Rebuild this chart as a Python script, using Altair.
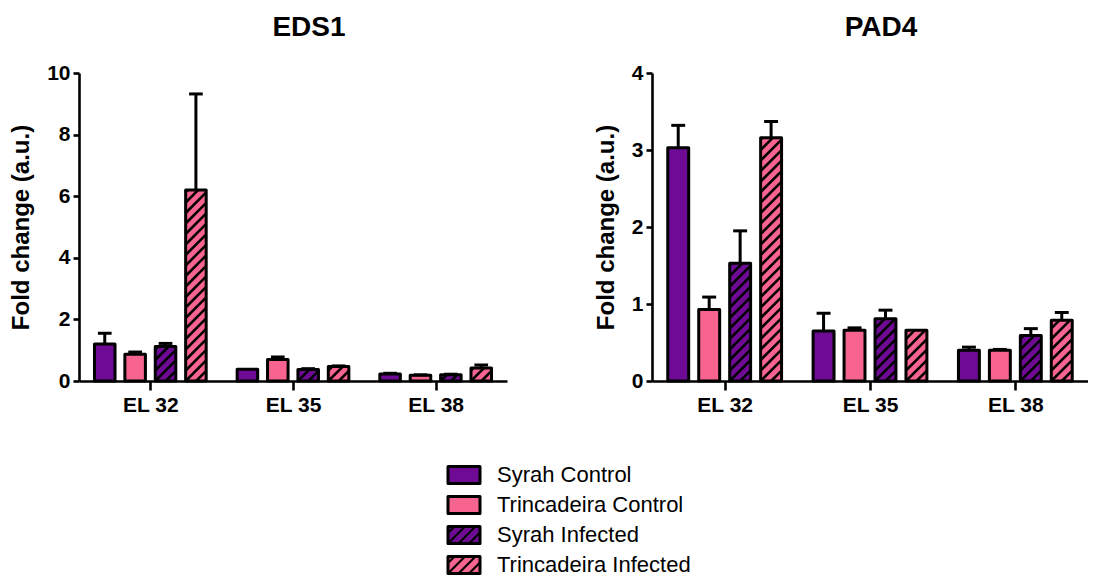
import json
import math
import altair as alt
import pandas as pd

# ---------------- data ----------------
stages = ["EL 32", "EL 35", "EL 38"]
series = ["Syrah Control", "Trincadeira Control", "Syrah Infected", "Trincadeira Infected"]
series_colors = ["#6f0a95", "#f6648f", "#6f0a95", "#f6648f"]
series_hatched = [False, False, True, True]

# EDS1 means and SEM (upper error) per series, order = stages
eds1_syrah_control = [1.20, 0.38, 0.23]
eds1_trinc_control = [0.87, 0.70, 0.19]
eds1_syrah_infected = [1.12, 0.37, 0.20]
eds1_trinc_infected = [6.20, 0.47, 0.42]
eds1_syrah_control_err = [0.35, 0.00, 0.02]
eds1_trinc_control_err = [0.07, 0.08, 0.01]
eds1_syrah_infected_err = [0.10, 0.03, 0.02]
eds1_trinc_infected_err = [3.12, 0.02, 0.10]

# PAD4 means and SEM
pad4_syrah_control = [3.03, 0.65, 0.40]
pad4_trinc_control = [0.93, 0.66, 0.40]
pad4_syrah_infected = [1.53, 0.81, 0.59]
pad4_trinc_infected = [3.16, 0.66, 0.79]
pad4_syrah_control_err = [0.29, 0.23, 0.04]
pad4_trinc_control_err = [0.16, 0.03, 0.01]
pad4_syrah_infected_err = [0.42, 0.11, 0.09]
pad4_trinc_infected_err = [0.21, 0.00, 0.10]

FONT = "Liberation Sans"
PITCH = 0.213      # distance between bar centres (in group units)
HALF = 0.072       # half bar width
CAP = 0.048        # half error-cap width
HATCH_STEP = 10.5  # px between hatch lines
STROKE = 3


def hatch_segments(x0, x1, y0, y1, ppx, ppy, up_is_positive=True):
    """diagonal '/' lines clipped to a rectangle, returned in data units"""
    w = (x1 - x0) * ppx
    h = abs(y1 - y0) * ppy
    segs = []
    kmin = math.ceil(-w / HATCH_STEP)
    kmax = math.floor(h / HATCH_STEP)
    for k in range(kmin, kmax + 1):
        c = k * HATCH_STEP
        xs = max(0.0, -c)
        xe = min(w, h - c)
        if xe - xs > 0.5:
            ya, yb = xs + c, xe + c
            if up_is_positive:
                segs.append(dict(hx=x0 + xs / ppx, hx2=x0 + xe / ppx,
                                 hy=y0 + ya / ppy, hy2=y0 + yb / ppy))
            else:
                segs.append(dict(hx=x0 + xs / ppx, hx2=x0 + xe / ppx,
                                 hy=y1 - ya / ppy, hy2=y1 - yb / ppy))
    return segs


def panel(title, means, errs, ymax, ystep, width, height, title_dx):
    rows = []
    for gi, st in enumerate(stages):
        for si, s in enumerate(series):
            xc = gi + 0.5 + (si - 1.5) * PITCH
            m = means[si][gi]
            e = errs[si][gi]
            rows.append(dict(stage=st, series=s, xc=xc, x0=xc - HALF, x1=xc + HALF,
                             value=m, base=0.0, top=m + e, err=e,
                             cl=xc - CAP, cr=xc + CAP, hatched=series_hatched[si]))
    df = pd.DataFrame(rows)
    ppx = width / 3.0
    ppy = height / ymax
    hrows = []
    for r in rows:
        if r["hatched"]:
            hrows += hatch_segments(r["x0"], r["x1"], 0.0, r["value"], ppx, ppy)
    hdf = pd.DataFrame(hrows)

    label_expr = "%s[floor(datum.value)]" % json.dumps(stages)
    xaxis = alt.Axis(values=[0.5, 1.5, 2.5], labelExpr=label_expr, title=None,
                     grid=False, tickSize=9, labelPadding=4, labelFontSize=21)
    yaxis = alt.Axis(values=list(range(0, ymax + 1, ystep)), title="Fold change (a.u.)",
                     grid=False, tickSize=6, labelPadding=3, labelFontSize=21,
                     titleFontSize=24, titlePadding=13)
    xs = alt.Scale(domain=[0, 3], nice=False, zero=False)
    ys = alt.Scale(domain=[0, ymax], nice=False)

    def X(f):
        return alt.X(f, type="quantitative", scale=xs, axis=xaxis)

    def Y(f):
        return alt.Y(f, type="quantitative", scale=ys, axis=yaxis)

    base = alt.Chart(df)
    err_line = base.transform_filter("datum.err > 0").mark_rule(
        color="black", strokeWidth=STROKE).encode(x=X("xc"), y=Y("value"), y2="top")
    fill = base.mark_rect().encode(
        x=X("x0"), x2="x1", y=Y("base"), y2="value",
        color=alt.Color("series:N", scale=alt.Scale(domain=series, range=series_colors),
                        legend=None))
    hatch = alt.Chart(hdf).mark_rule(color="black", strokeWidth=2.5).encode(
        x=X("hx"), x2="hx2", y=Y("hy"), y2="hy2")
    outline = base.mark_rect(fillOpacity=0, stroke="black", strokeWidth=STROKE,
                             strokeJoin="round").encode(
        x=X("x0"), x2="x1", y=Y("base"), y2="value")
    caps = base.transform_filter("datum.err > 0").mark_rule(
        color="black", strokeWidth=STROKE).encode(x=X("cl"), x2="cr", y=Y("top"))

    return alt.layer(err_line, fill, hatch, outline, caps).properties(
        width=width, height=height,
        title=alt.TitleParams(title, fontSize=28, font=FONT, fontWeight="bold",
                              dx=title_dx, offset=20, color="black"))


eds1 = panel("EDS1",
             [eds1_syrah_control, eds1_trinc_control, eds1_syrah_infected, eds1_trinc_infected],
             [eds1_syrah_control_err, eds1_trinc_control_err, eds1_syrah_infected_err,
              eds1_trinc_infected_err],
             10, 2, 428, 308, 16)
pad4 = panel("PAD4",
             [pad4_syrah_control, pad4_trinc_control, pad4_syrah_infected, pad4_trinc_infected],
             [pad4_syrah_control_err, pad4_trinc_control_err, pad4_syrah_infected_err,
              pad4_trinc_infected_err],
             4, 1, 436, 308, 11)

# ---------------- custom legend (hatched swatches) ----------------
LW, LH = 700, 125
LX, LY0, LSTEP, SW, SH = 369, 20, 30, 32, 17
lrows = []
lhatch = []
for i, s in enumerate(series):
    cy = LY0 + i * LSTEP
    lrows.append(dict(series=s, sx=LX, sx2=LX + SW, sy=cy - SH / 2, sy2=cy + SH / 2,
                      tx=LX + SW + 17, ty=cy))
    if series_hatched[i]:
        lhatch += hatch_segments(LX, LX + SW, cy - SH / 2, cy + SH / 2, 1.0, 1.0,
                                 up_is_positive=False)
ldf = pd.DataFrame(lrows)
lhdf = pd.DataFrame(lhatch)
lxs = alt.Scale(domain=[0, LW], nice=False, zero=False)
lys = alt.Scale(domain=[LH, 0], nice=False, zero=False)
lbase = alt.Chart(ldf)
l_fill = lbase.mark_rect().encode(
    x=alt.X("sx:Q", scale=lxs, axis=None), x2="sx2",
    y=alt.Y("sy:Q", scale=lys, axis=None), y2="sy2",
    color=alt.Color("series:N", scale=alt.Scale(domain=series, range=series_colors),
                    legend=None))
l_hatch = alt.Chart(lhdf).mark_rule(color="black", strokeWidth=2.2).encode(
    x=alt.X("hx:Q", scale=lxs, axis=None), x2="hx2",
    y=alt.Y("hy:Q", scale=lys, axis=None), y2="hy2")
l_out = lbase.mark_rect(fillOpacity=0, stroke="black", strokeWidth=STROKE,
                        strokeJoin="round").encode(
    x=alt.X("sx:Q", scale=lxs, axis=None), x2="sx2",
    y=alt.Y("sy:Q", scale=lys, axis=None), y2="sy2")
l_text = lbase.mark_text(align="left", baseline="middle", font=FONT, fontSize=22,
                         color="black").encode(
    x=alt.X("tx:Q", scale=lxs, axis=None), y=alt.Y("ty:Q", scale=lys, axis=None),
    text="series:N")
legend = alt.layer(l_fill, l_hatch, l_out, l_text).properties(width=LW, height=LH)

chart = alt.vconcat(
    alt.hconcat(eds1, pad4, spacing=87),
    legend, spacing=40,
).properties(
    padding={"left": 1, "top": 6, "right": 0, "bottom": 0}
).configure_view(stroke=None).configure_axis(
    domainColor="black", domainWidth=2.6, tickColor="black", tickWidth=2.6,
    labelColor="black", titleColor="black", labelFont=FONT, titleFont=FONT,
    labelFontWeight="bold", titleFontWeight="bold",
).configure_concat(spacing=40)

chart.save("out.html", embed_options={"renderer": "svg", "actions": False})
